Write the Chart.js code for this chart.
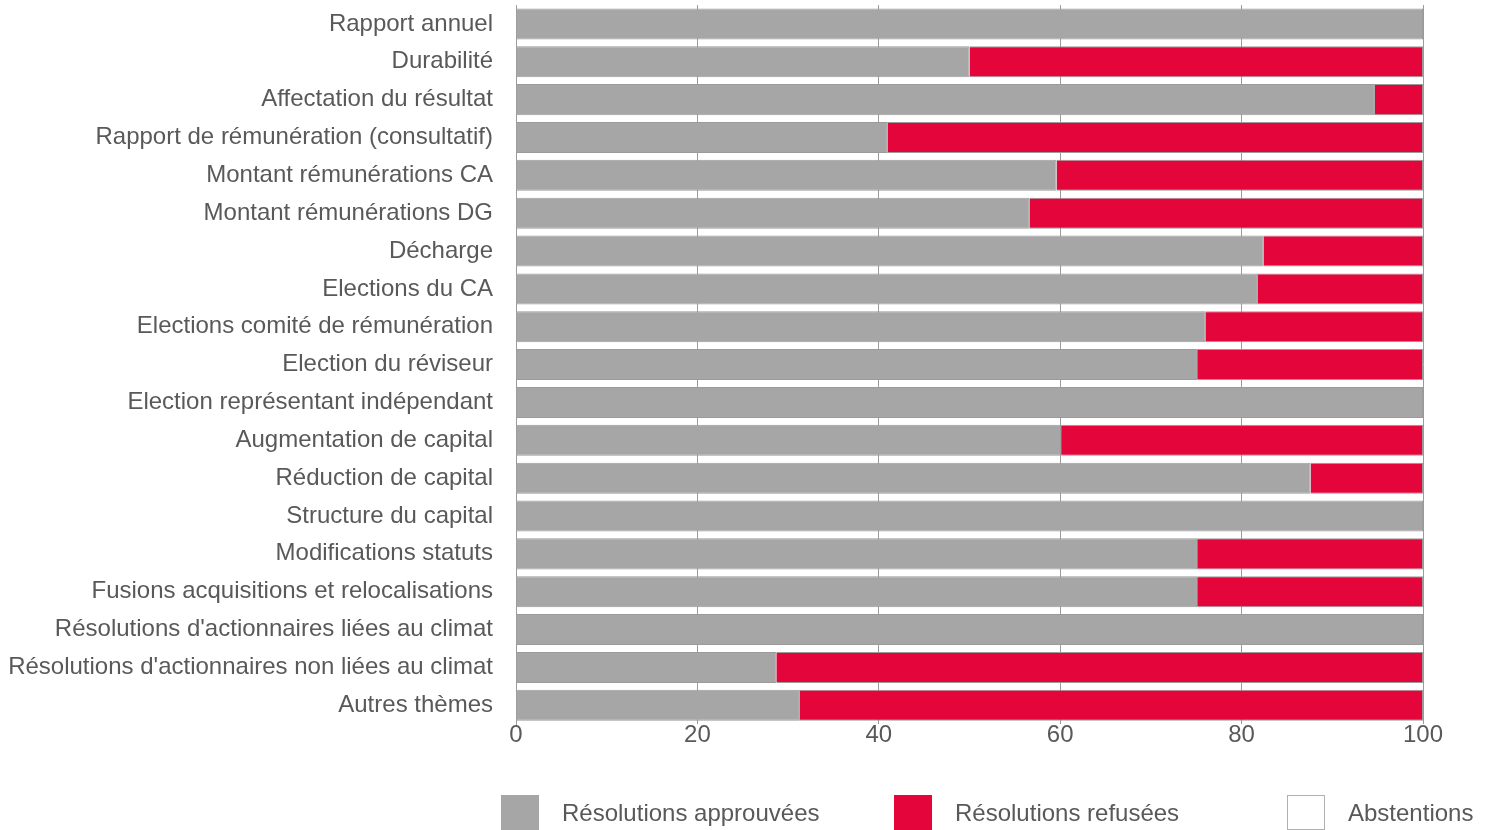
<!DOCTYPE html>
<html>
<head>
<meta charset="utf-8">
<script src="https://cdn.jsdelivr.net/npm/chart.js@4.4.1/dist/chart.umd.min.js"></script>
<style>
  html, body { margin: 0; padding: 0; background: #fff; }
  #wrap { position: relative; width: 1488px; height: 830px; overflow: hidden; }
  #legend { position: absolute; left: 0; top: 795px; width: 1488px; height: 35px;
            font-family: "Liberation Sans", Arial, sans-serif; font-size: 24px; color: #595959; }
  .item { position: absolute; top: 0; height: 35px; display: flex; align-items: center; }
  .box { width: 38px; height: 35px; box-sizing: border-box; margin-right: 23px; }
</style>
</head>
<body>
<div id="wrap">
  <canvas id="voteChart" width="1488" height="830"></canvas>
  <div id="legend"></div>
</div>
<script>
// ---- data ----
const categories = [
  "Rapport annuel",
  "Durabilité",
  "Affectation du résultat",
  "Rapport de rémunération (consultatif)",
  "Montant rémunérations CA",
  "Montant rémunérations DG",
  "Décharge",
  "Elections du CA",
  "Elections comité de rémunération",
  "Election du réviseur",
  "Election représentant indépendant",
  "Augmentation de capital",
  "Réduction de capital",
  "Structure du capital",
  "Modifications statuts",
  "Fusions acquisitions et relocalisations",
  "Résolutions d'actionnaires liées au climat",
  "Résolutions d'actionnaires non liées au climat",
  "Autres thèmes"
];
const approved = [100, 50.0, 94.7, 41.0, 59.6, 56.6, 82.4, 81.8, 76.0, 75.1, 100, 60.1, 87.6, 100, 75.1, 75.1, 100, 28.7, 31.3];
const refused  = [0, 50.0, 5.3, 59.0, 40.4, 43.4, 17.6, 18.2, 24.0, 24.9, 0, 39.9, 12.4, 0, 24.9, 24.9, 0, 71.3, 68.7];
const abstentions = [0, 0, 0, 0, 0, 0, 0, 0, 0, 0, 0, 0, 0, 0, 0, 0, 0, 0, 0];
const seriesNames = ["Résolutions approuvées", "Résolutions refusées", "Abstentions"];
const xTicks = [0, 20, 40, 60, 80, 100];

const GRAY = "#a6a6a6";
const RED = "#e4053a";
const LINE = "#9b9b9b";
const TEXT = "#595959";
const FONT = "'Liberation Sans', Arial, sans-serif";

const ctx = document.getElementById("voteChart").getContext("2d");

const mkSet = (label, data, color) => ({
  label: label,
  data: data,
  backgroundColor: color,
  borderColor: LINE,
  borderWidth: 1,
  barPercentage: 0.82,
  categoryPercentage: 1
});

const chart = new Chart(ctx, {
  type: "bar",
  data: {
    labels: categories,
    datasets: [
      mkSet(seriesNames[0], approved, GRAY),
      mkSet(seriesNames[1], refused, RED),
      mkSet(seriesNames[2], abstentions, "#ffffff")
    ]
  },
  options: {
    indexAxis: "y",
    responsive: false,
    animation: false,
    layout: { padding: { left: 0, right: 65, top: 5, bottom: 83 } },
    plugins: {
      legend: { display: false },
      tooltip: { enabled: false }
    },
    scales: {
      x: {
        stacked: true,
        min: 0,
        max: 100,
        z: 1,
        afterBuildTicks: s => { s.ticks = xTicks.map(v => ({ value: v })); },
        grid: { color: LINE, lineWidth: 1, drawTicks: false },
        border: { display: false },
        ticks: { color: TEXT, padding: -3, font: { family: FONT, size: 24 } }
      },
      y: {
        stacked: true,
        // fixed axis width; the labels sit inside the band so no extra top/bottom room needed
        afterFit: s => { s.width = 516; s.paddingTop = 0; s.paddingBottom = 0; },
        grid: { display: false, drawTicks: false },
        border: { display: true, color: LINE },
        ticks: { color: TEXT, padding: 23, autoSkip: false, font: { family: FONT, size: 24 } }
      }
    }
  }
});

// ---- legend (fixed columns like the original) ----
const legendX = [501, 894, 1287];
const legendColors = [GRAY, RED, "#ffffff"];
const legendBorders = [GRAY, RED, "#b0b0b0"];
const legendEl = document.getElementById("legend");
seriesNames.forEach((name, i) => {
  const item = document.createElement("div");
  item.className = "item";
  item.style.left = legendX[i] + "px";
  const box = document.createElement("span");
  box.className = "box";
  box.style.background = legendColors[i];
  box.style.border = "1px solid " + legendBorders[i];
  item.appendChild(box);
  item.appendChild(document.createTextNode(name));
  legendEl.appendChild(item);
});
</script>
</body>
</html>
